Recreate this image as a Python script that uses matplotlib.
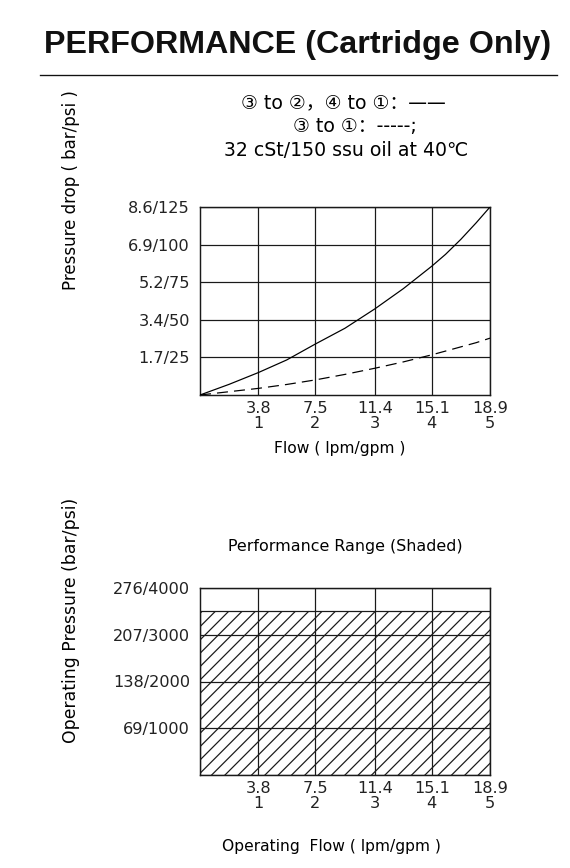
import matplotlib
matplotlib.use("Agg")
import matplotlib.pyplot as plt
from matplotlib.lines import Line2D

plt.rcParams["font.family"] = ["DejaVu Sans", "Noto Sans CJK SC"]
plt.rcParams["hatch.linewidth"] = 1.1

# flow ticks (lpm / gpm)
flow_lpm = [3.8, 7.5, 11.4, 15.1, 18.9]
flow_gpm = [1, 2, 3, 4, 5]

# pressure drop ticks (bar / psi)
dp_psi = [25, 50, 75, 100, 125]
dp_bar = [1.7, 3.4, 5.2, 6.9, 8.6]

# pressure drop curves (psi)
curve_flow = [0, 1.9, 3.8, 5.65, 7.5, 9.45, 11.4, 13.25, 15.1, 16.0, 17.0, 18.0, 18.9]
solid_psi = [0, 7.1, 14.9, 23.3, 33.8, 44.4, 57.3, 70.7, 85.6, 93.5, 103.5, 114.5, 125]
dashed_psi = [0, 2.2, 4.4, 7.0, 10.0, 13.7, 17.8, 22.0, 26.7, 29.2, 32.0, 34.8, 37.8]

# operating pressure ticks (bar / psi)
op_psi = [1000, 2000, 3000, 4000]
op_bar = [69, 138, 207, 276]

# shaded performance range
shade_flow = [0, 18.9]
shade_psi = 3500

W, H = 570, 868
DPI = 80
fig = plt.figure(figsize=(W / DPI, H / DPI), dpi=DPI)


def fx(px):
    return px / W


def fy(py):
    return 1 - py / H


tick_fs = 14.5
edge = "#1a1a1a"


def style(ax, yticks, ylabels):
    ax.set_xlim(0, flow_lpm[-1])
    ax.set_xticks(flow_lpm)
    ax.set_xticklabels(["%s\n%d" % (a, b) for a, b in zip(flow_lpm, flow_gpm)],
                       fontsize=tick_fs, linespacing=1.0)
    ax.set_yticks(yticks)
    ax.set_yticklabels(ylabels, fontsize=tick_fs)
    ax.tick_params(length=0, colors="#222222")
    ax.tick_params(axis="x", pad=5)
    ax.tick_params(axis="y", pad=9)
    ax.grid(True, color=edge, linewidth=1.1)
    for s in ax.spines.values():
        s.set_color(edge)
        s.set_linewidth(1.3)


# ---- chart 1: pressure drop
ax1 = fig.add_axes([fx(200), fy(395), fx(290), 188 / H])
ax1.plot(curve_flow, solid_psi, color="black", linewidth=1.1, zorder=3)
ax1.plot(curve_flow, dashed_psi, color="black", linewidth=1.1,
         dashes=(9, 5), zorder=3)
ax1.set_ylim(0, dp_psi[-1])
style(ax1, dp_psi, ["%s/%d" % (b, p) for b, p in zip(dp_bar, dp_psi)])

# ---- chart 2: operating range
ax2 = fig.add_axes([fx(200), fy(775), fx(290), 187 / H])
ax2.fill_between(shade_flow, 0, shade_psi, facecolor="white",
                 edgecolor=edge, hatch="//", linewidth=1.1, zorder=1)
ax2.set_ylim(0, op_psi[-1])
style(ax2, op_psi, ["%d/%d" % (b, p) for b, p in zip(op_bar, op_psi)])
ax2.set_axisbelow(False)

# ---- texts
fig.text(fx(298), fy(45), "PERFORMANCE (Cartridge Only)", ha="center",
         va="center", fontsize=29, fontweight="bold",
         family=["Liberation Sans", "DejaVu Sans"], color="#111111")
fig.add_artist(Line2D([fx(40), fx(557)], [fy(75), fy(75)], color="#111111",
                      linewidth=1.2))

fig.text(fx(343), fy(103), "③ to ②，④ to ①：——", ha="center", va="center",
         fontsize=17)
fig.text(fx(355), fy(127), "③ to ①：-----;", ha="center", va="center",
         fontsize=17)
fig.text(fx(346), fy(150), "32 cSt/150 ssu oil at 40℃", ha="center",
         va="center", fontsize=17)

fig.text(fx(71), fy(190), "Pressure drop ( bar/psi )", rotation=90,
         ha="center", va="center", fontsize=15)
fig.text(fx(340), fy(449), "Flow ( lpm/gpm )", ha="center", va="center",
         fontsize=14)

fig.text(fx(71), fy(620), "Operating Pressure (bar/psi)", rotation=90,
         ha="center", va="center", fontsize=15.5)
fig.text(fx(345), fy(547), "Performance Range (Shaded)", ha="center",
         va="center", fontsize=14.3)
fig.text(fx(331), fy(846), "Operating  Flow ( lpm/gpm )", ha="center",
         va="center", fontsize=14)

fig.savefig("out.png", dpi=DPI)
